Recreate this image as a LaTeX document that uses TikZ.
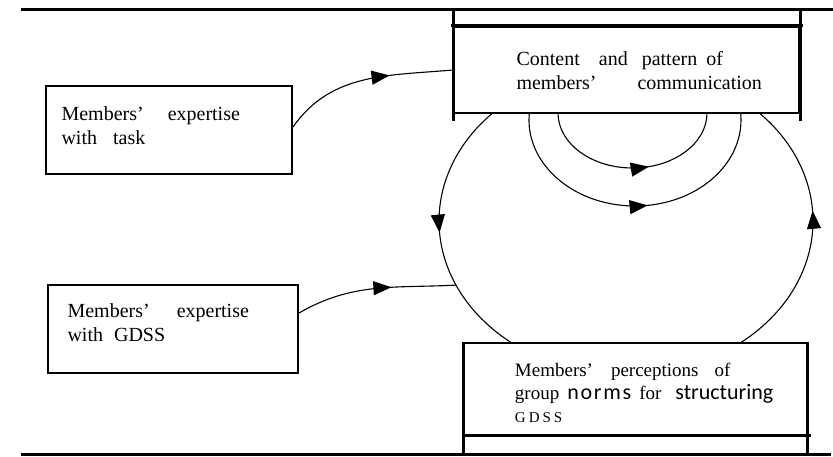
\documentclass[tikz,border=0pt]{standalone}
\usepackage{fontspec}
\setmainfont{Liberation Serif}
\newfontfamily\normfont{Carlito}
\usepackage{tikz}
\usetikzlibrary{arrows.meta,decorations.markings,calc}

\begin{document}
\begin{tikzpicture}[x=1pt,y=1pt,>={Triangle[length=18pt,width=14pt]},
                    line width=1.1pt]
  \tikzstyle{box}=[draw,line width=2pt,inner sep=0pt]
  \tikzstyle{lbl}=[align=left,inner sep=0pt,anchor=west,font=\fontsize{20}{24}\selectfont]
  \tikzstyle{rule}=[line width=3pt]
  \tikzstyle{midtip}=[postaction={decorate},decoration={markings,mark=at position #1 with {\arrow{>}}}]

  \useasboundingbox (0,0) rectangle (833,456);

  \coordinate (topL) at (21,446);
  \coordinate (topR) at (833,446);
  \coordinate (botL) at (21,2);
  \coordinate (botR) at (831,2);

  \node[box,minimum width=345,minimum height=86] (comm) at (626.5,386) {};
  \node[box,minimum width=246,minimum height=88] (task) at (169,326) {};
  \node[box,minimum width=250,minimum height=88] (gdss) at (173,127) {};
  \node[box,line width=1.2pt,minimum width=343,minimum height=92] (norms) at (635.5,67) {};

  \node[lbl] (commtxt) at ([xshift=63,yshift=-1]comm.west)
    {Content\hspace{19pt}and\hspace{14pt}pattern\hspace{9pt}of\\members'\hspace{41pt}communication};
  \node[lbl] (tasktxt) at ([xshift=16,yshift=4]task.west)
    {Members'\hspace{24pt}expertise\\with\hspace{16pt}task};
  \node[lbl] (gdsstxt) at ([xshift=20,yshift=6]gdss.west)
    {Members'\hspace{27pt}expertise\\with\hspace{11pt}GDSS};
  \node[lbl,font=\fontsize{19}{23}\selectfont] (normstxt) at ([xshift=51,yshift=-4]norms.west)
    {Members'\hspace{18pt}perceptions\hspace{16pt}of\\group\hspace{8pt}{\normfont\fontsize{22}{23}\selectfont\addfontfeature{LetterSpace=8}norms}\hspace{8pt}for\hspace{14pt}{\normfont\fontsize{22}{23}\selectfont structuring}\\{\fontsize{15}{23}\selectfont G\hspace{3pt}D\hspace{3pt}S\hspace{3pt}S}};

  \draw[rule] (topL) -- (topR);
  \draw[rule] (botL) -- (botR);
  \draw[rule] (comm.north west |- topL) -- ([yshift=-7]comm.south west);
  \draw[rule] (comm.north east |- topL) -- ([yshift=-7]comm.south east);
  \draw[rule] ([xshift=-2]comm.north west) -- ([xshift=3]comm.north east);
  \draw[rule] (norms.north west) -- (norms.north west |- botL);
  \draw[rule] (norms.north east) -- (norms.north east |- botL);
  \draw[rule] (norms.south west) -- ([xshift=3]norms.south east);

  \coordinate (loopC) at (626,235);
  \coordinate (loopNW) at ($(loopC)+(135.3:187pt and 154pt)$);
  \coordinate (loopSE) at ($(loopC)+(-52.4:187pt and 154pt)$);
  \coordinate (loopW) at ($(loopC)+(204.6:187pt and 154pt)$);
  \coordinate (innerA) at (558,343);
  \coordinate (outerA) at ($(635,336)+(175.3:106pt and 86pt)$);

  \draw[midtip=0.64] ([yshift=3]task.east) to[out=55,in=185] (comm.west);
  \draw[midtip=0.6] ([yshift=16]gdss.east) to[out=30,in=183] (loopW);
  \draw[midtip=0.5] (loopNW) arc[start angle=135.3,end angle=232.4,x radius=187pt,y radius=154pt];
  \draw[midtip=0.58] (loopSE) arc[start angle=-52.4,end angle=44.7,x radius=187pt,y radius=154pt];
  \draw[midtip=0.58] (innerA) arc[start angle=180,end angle=360,x radius=74.5pt,y radius=55pt];
  \draw[midtip=0.54] (outerA) arc[start angle=175.3,end angle=364.7,x radius=106pt,y radius=86pt];
\end{tikzpicture}
\end{document}
